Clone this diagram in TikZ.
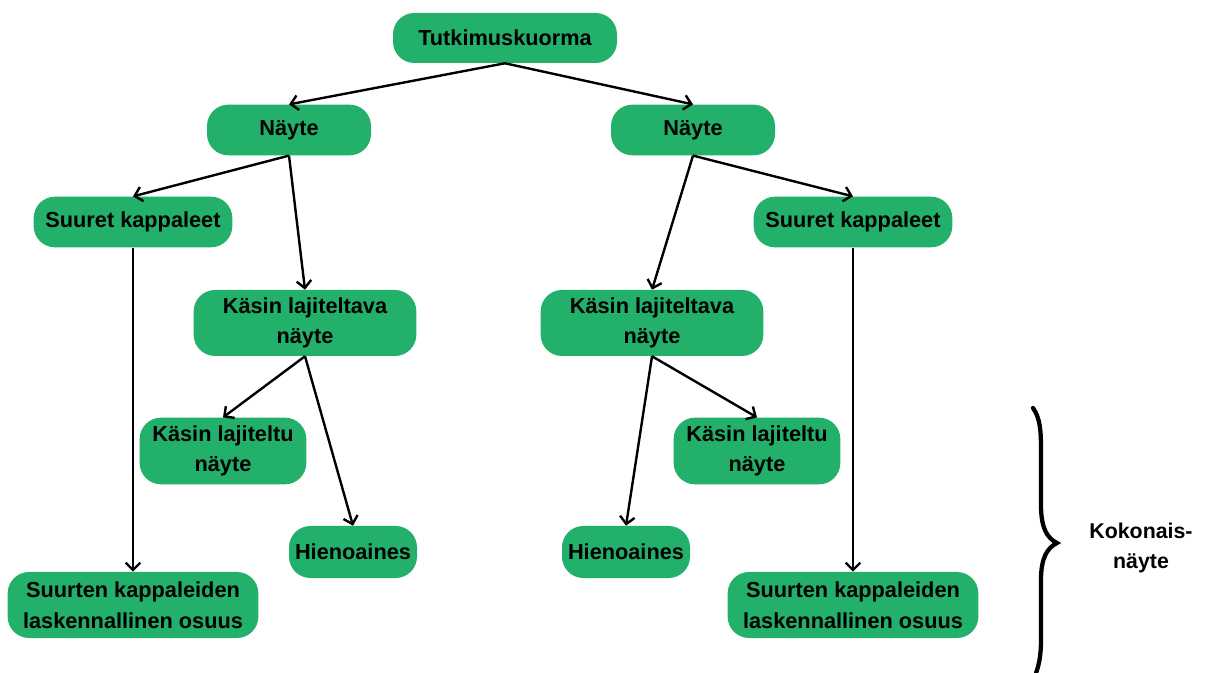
\documentclass[tikz,border=0pt]{standalone}
\usepackage{fontspec}
\setmainfont{Liberation Sans}
\usetikzlibrary{arrows.meta}
\definecolor{boxgreen}{RGB}{34,176,106}
\begin{document}
\begin{tikzpicture}[x=0.75pt,y=-0.75pt,
  box/.style={fill=boxgreen, draw=none, rounded corners=16pt, align=center,
    font=\fontsize{16.3}{23}\selectfont\bfseries, inner sep=0pt},
  arr/.style={draw=black, line width=1.8pt, -{Straight Barb[length=5.5pt,width=11pt]}},
  lbl/.style={align=center, font=\fontsize{16}{23}\selectfont\bfseries, inner sep=0pt}]
\useasboundingbox (0,0) rectangle (1211,673);
% nodes
\node[box, minimum width=168pt, minimum height=37.5pt] (top) at (505,38) {Tutkimuskuorma};
\node[box, minimum width=123pt, minimum height=38pt] (nL) at (289,130) {Näyte};
\node[box, minimum width=123pt, minimum height=38pt] (nR) at (693,130) {Näyte};
\node[box, minimum width=149pt, minimum height=38pt] (sL) at (133,222) {Suuret kappaleet};
\node[box, minimum width=149pt, minimum height=38pt] (sR) at (853,222) {Suuret kappaleet};
\node[box, minimum width=167pt, minimum height=49.5pt] (kvL) at (305,323) {Käsin lajiteltava\\näyte};
\node[box, minimum width=167pt, minimum height=49.5pt] (kvR) at (652,323) {Käsin lajiteltava\\näyte};
\node[box, minimum width=125pt, minimum height=50pt] (ktL) at (223,451) {Käsin lajiteltu\\näyte};
\node[box, minimum width=125pt, minimum height=50pt] (ktR) at (757,451) {Käsin lajiteltu\\näyte};
\node[box, minimum width=96pt, minimum height=39pt] (hL) at (353,552) {Hienoaines};
\node[box, minimum width=96pt, minimum height=39pt] (hR) at (626,552) {Hienoaines};
\node[box, minimum width=188pt, minimum height=49.5pt] (oL) at (133,605) {Suurten kappaleiden\\laskennallinen osuus};
\node[box, minimum width=188pt, minimum height=49.5pt] (oR) at (853,605) {Suurten kappaleiden\\laskennallinen osuus};
\node[lbl] (kok) at (1141,548) {Kokonais-\\näyte};
% connectors
\draw[arr] (top.south) -- (nL.north);
\draw[arr] (top.south) -- (nR.north);
\draw[arr] (nL.south) -- (sL.north);
\draw[arr] (nL.south) -- (kvL.north);
\draw[arr] (nR.south) -- (kvR.north);
\draw[arr] (nR.south) -- (sR.north);
\draw[arr] (sL.south) -- (oL.north);
\draw[arr] (sR.south) -- (oR.north);
\draw[arr] (kvL.south) -- (ktL.north);
\draw[arr] (kvL.south) -- (hL.north);
\draw[arr] (kvR.south) -- (hR.north);
\draw[arr] (kvR.south) -- (ktR.north);
% brace
\draw[line width=3.2pt, line cap=round]
  (1033,408) .. controls (1040,418) and (1041,430) .. (1041,450)
  -- (1041,505) .. controls (1041,528) and (1047,538) .. (1057,543)
  .. controls (1047,548) and (1041,558) .. (1041,580)
  -- (1041,640) .. controls (1041,655) and (1039,665) .. (1036,673);
\end{tikzpicture}
\end{document}
